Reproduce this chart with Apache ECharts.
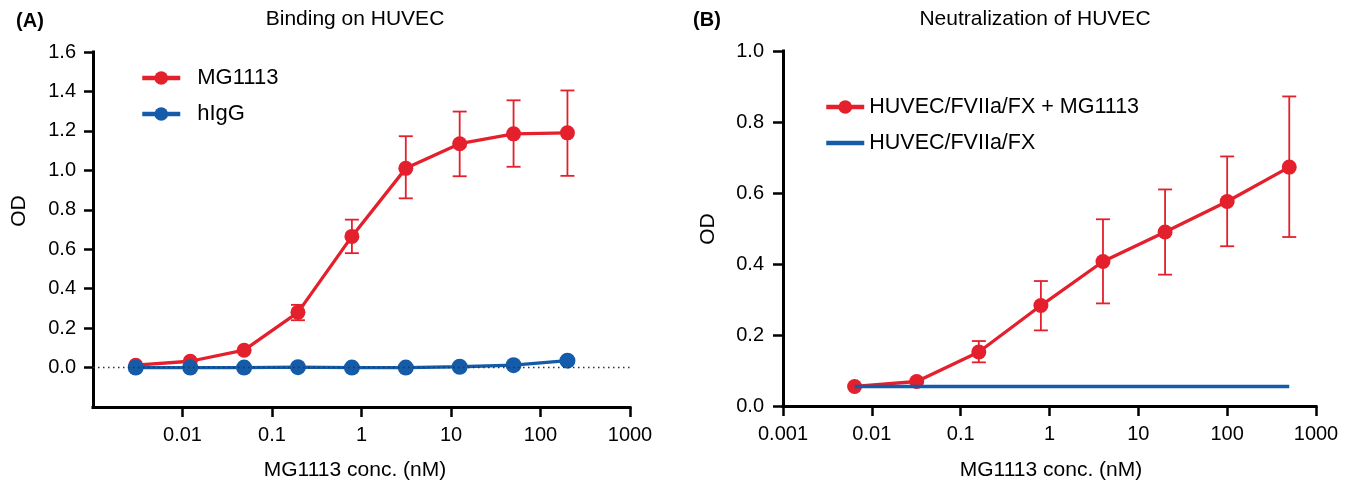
<!DOCTYPE html>
<html>
<head>
<meta charset="utf-8">
<script src="https://cdn.jsdelivr.net/npm/echarts@6/dist/echarts.min.js"></script>
<style>
html,body{margin:0;padding:0;background:#fff;}
#chart{width:1352px;height:488px;}
</style>
</head>
<body>
<div id="chart"></div>
<script>
// ---------- data ----------
const concA = [0.003, 0.0122, 0.0488, 0.195, 0.781, 3.125, 12.5, 50, 200];
const mg1113A = [0.012, 0.032, 0.088, 0.28, 0.665, 1.01, 1.135, 1.185, 1.19];
const mg1113A_low = [null, null, null, 0.24, 0.58, 0.858, 0.97, 1.018, 0.972];
const mg1113A_high = [null, null, null, 0.318, 0.75, 1.173, 1.298, 1.355, 1.405];
const higgA = [0.0, 0.0, 0.0, 0.002, 0.0, 0.0, 0.004, 0.012, 0.035];

const concB = [0.0064, 0.032, 0.16, 0.8, 4, 20, 100, 500];
const mg1113B = [0.055, 0.069, 0.152, 0.283, 0.407, 0.49, 0.576, 0.673];
const mg1113B_low = [null, null, 0.123, 0.213, 0.289, 0.37, 0.45, 0.476];
const mg1113B_high = [null, null, 0.183, 0.352, 0.526, 0.61, 0.703, 0.872];
const baselineB = [0.055, 0.055, 0.055, 0.055, 0.055, 0.055, 0.055, 0.055];

const xTickValuesA = [0.01, 0.1, 1, 10, 100, 1000];
const xTickValuesB = [0.001, 0.01, 0.1, 1, 10, 100, 1000];
const xTickLabels = ['0.001', '0.01', '0.1', '1', '10', '100', '1000'];
const yTickValuesA = [0, 0.2, 0.4, 0.6, 0.8, 1.0, 1.2, 1.4, 1.6];
const yTickValuesB = [0, 0.2, 0.4, 0.6, 0.8, 1.0];

const seriesNames = ['MG1113', 'hIgG', 'HUVEC/FVIIa/FX + MG1113', 'HUVEC/FVIIa/FX'];
// ---------- style ----------
const RED = '#E3202B';
const BLUE = '#145CAA';
const FONT = 'Liberation Sans';

const pairs = (xs, ys) => xs.map((x, i) => [x, ys[i]]);
const errData = (xs, lo, hi) => xs.map((x, i) => [x, lo[i], hi[i]]).filter(d => d[1] != null);

function errorBarSeries(xIdx, yIdx, data) {
  return {
    type: 'custom', xAxisIndex: xIdx, yAxisIndex: yIdx, z: 1, silent: true,
    data: data,
    encode: { x: 0, y: [1, 2] },
    renderItem: function (params, api) {
      const x = api.value(0);
      const lo = api.coord([x, api.value(1)]);
      const hi = api.coord([x, api.value(2)]);
      const w = 7;
      const st = { stroke: RED, lineWidth: 1.8 };
      return {
        type: 'group', children: [
          { type: 'line', shape: { x1: lo[0], y1: lo[1], x2: hi[0], y2: hi[1] }, style: st },
          { type: 'line', shape: { x1: lo[0] - w, y1: lo[1], x2: lo[0] + w, y2: lo[1] }, style: st },
          { type: 'line', shape: { x1: hi[0] - w, y1: hi[1], x2: hi[0] + w, y2: hi[1] }, style: st }
        ]
      };
    }
  };
}

const axisLineStyle = { color: '#000', width: 3, cap: 'square' };
const labelFmtX = v => xTickLabels[Math.round(Math.log10(v)) + 3];

function xAxisCfg(gridIndex, ticks) {
  return {
    type: 'log', logBase: 10, gridIndex: gridIndex, min: 0.001, max: 1000,
    axisLine: { show: true, onZero: false, lineStyle: axisLineStyle },
    axisTick: { show: true, length: 10, lineStyle: { color: '#000', width: 2.5 }, customValues: ticks },
    axisLabel: { color: '#000', fontSize: 20, fontFamily: FONT, margin: 18, formatter: labelFmtX, customValues: ticks },
    splitLine: { show: false }, minorTick: { show: false }
  };
}
function yAxisCfg(gridIndex, min, max, ticks, margin, tl) {
  return {
    type: 'value', gridIndex: gridIndex, min: min, max: max, interval: 0.2,
    axisLine: { show: true, onZero: false, lineStyle: axisLineStyle },
    axisTick: { show: true, length: tl, lineStyle: { color: '#000', width: 2.5 }, customValues: ticks },
    axisLabel: { color: '#000', fontSize: 20, fontFamily: FONT, margin: margin, formatter: v => v.toFixed(1), customValues: ticks },
    splitLine: { show: false }
  };
}

const txt = (x, y, text, extra) => Object.assign({
  type: 'text', x: x, y: y,
  style: Object.assign({ text: text, fill: '#000', font: '21px "' + FONT + '"', align: 'center', verticalAlign: 'middle' }, extra || {})
});

const legendCommon = {
  orient: 'vertical', padding: 0, itemWidth: 38, itemHeight: 17, itemGap: 14,
  lineStyle: { width: 4.5 }
};

const option = {
  backgroundColor: '#fff',
  animation: false,
  textStyle: { fontFamily: FONT },
  grid: [
    { left: 93, top: 52, width: 537, height: 355 },
    { left: 783, top: 51, width: 533, height: 355 }
  ],
  xAxis: [xAxisCfg(0, xTickValuesA), xAxisCfg(1, xTickValuesB)],
  yAxis: [
    yAxisCfg(0, -0.2, 1.6, yTickValuesA, 17, 9),
    yAxisCfg(1, 0, 1.0, yTickValuesB, 19, 10)
  ],
  legend: [
    Object.assign({}, legendCommon, {
      data: [seriesNames[0], seriesNames[1]], left: 140, top: 67,
      textStyle: { fontSize: 22, color: '#000', fontFamily: FONT, padding: [0, 0, 0, 12] }
    }),
    Object.assign({}, legendCommon, {
      data: [seriesNames[2], { name: seriesNames[3], itemStyle: { opacity: 0 } }], left: 824, top: 96,
      textStyle: { fontSize: 21.5, color: '#000', fontFamily: FONT, padding: [0, 0, 0, 0] }
    })
  ],
  graphic: [
    txt(30, 21, '(A)', { font: 'bold 20px "' + FONT + '"' }),
    txt(355, 19, 'Binding on HUVEC'),
    txt(355, 470, 'MG1113 conc. (nM)'),
    txt(19, 211, 'OD'),
    txt(707, 20, '(B)', { font: 'bold 20px "' + FONT + '"' }),
    txt(1035, 19, 'Neutralization of HUVEC'),
    txt(1051, 470, 'MG1113 conc. (nM)'),
    txt(708, 229, 'OD')
  ].map((g, i) => (i === 3 || i === 7) ? Object.assign(g, { rotation: Math.PI / 2 }) : g),
  series: [
    errorBarSeries(0, 0, errData(concA, mg1113A_low, mg1113A_high)),
    {
      name: seriesNames[0], type: 'line', xAxisIndex: 0, yAxisIndex: 0, z: 3,
      data: pairs(concA, mg1113A), symbol: 'circle', symbolSize: 15,
      itemStyle: { color: RED }, lineStyle: { color: RED, width: 3.3 },
      markLine: {
        silent: true, symbol: ['none', 'none'], label: { show: false },
        lineStyle: { color: '#333', width: 1.3, type: [1.5, 3.5] },
        data: [{ yAxis: 0 }]
      }
    },
    {
      name: seriesNames[1], type: 'line', xAxisIndex: 0, yAxisIndex: 0, z: 4,
      data: pairs(concA, higgA), symbol: 'circle', symbolSize: 16,
      itemStyle: { color: BLUE }, lineStyle: { color: BLUE, width: 3.3 }
    },
    errorBarSeries(1, 1, errData(concB, mg1113B_low, mg1113B_high)),
    {
      name: seriesNames[2], type: 'line', xAxisIndex: 1, yAxisIndex: 1, z: 3,
      data: pairs(concB, mg1113B), symbol: 'circle', symbolSize: 15,
      itemStyle: { color: RED }, lineStyle: { color: RED, width: 3.3 }
    },
    {
      name: seriesNames[3], type: 'line', xAxisIndex: 1, yAxisIndex: 1, z: 4,
      data: pairs(concB, baselineB), symbol: 'none', showSymbol: false,
      itemStyle: { color: BLUE }, lineStyle: { color: BLUE, width: 3.5 }
    }
  ]
};

const chart = echarts.init(document.getElementById('chart'), null, { renderer: 'canvas' });
chart.setOption(option);
</script>
</body>
</html>
